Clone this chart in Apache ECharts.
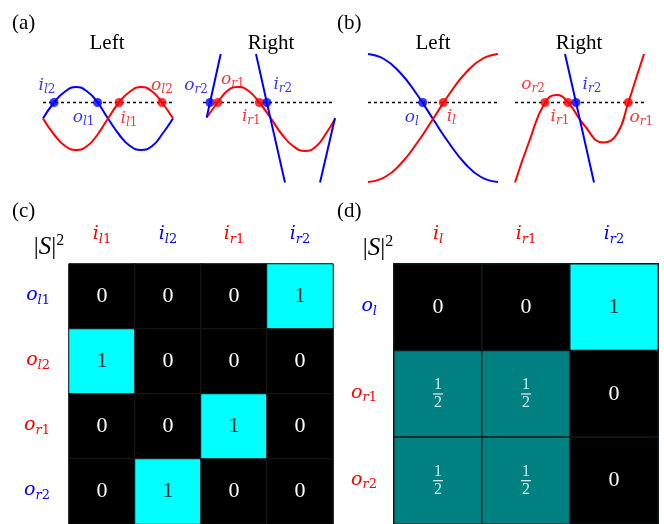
<!DOCTYPE html>
<html>
<head>
<meta charset="utf-8">
<script src="https://cdn.jsdelivr.net/npm/echarts@6/dist/echarts.min.js"></script>
<style>
  html, body { margin: 0; padding: 0; background: #fff; }
  #main { width: 664px; height: 524px; }
</style>
</head>
<body>
<div id="main"></div>
<script>
(function () {
  var RED = '#ff0000';
  var BLUE = '#0000ff';
  var SERIF = 'Liberation Serif';
  var MATH = 'DejaVu Serif';

  // (a) Left: band energies E(k)
  var aLeftK = [-1, -0.83, -0.66, -0.49, -0.32, -0.16, 0, 0.17, 0.34, 0.51, 0.68, 0.83, 1];
  var aLeftBlue = [-0.32, 0, 0.22, 0.31, 0.22, 0, -0.32, -0.64, -0.87, -0.95, -0.87, -0.64, -0.32];
  var aLeftRed = [-0.32, -0.64, -0.87, -0.95, -0.87, -0.64, -0.32, 0, 0.22, 0.31, 0.22, 0, -0.32];
  var aLeftDotK = [-0.83, -0.16, 0.17, 0.83];
  var aLeftDotName = ['i_l2', 'o_l1', 'i_l1', 'o_l2'];
  var aLeftDotColor = ['b', 'b', 'r', 'r'];

  // (a) Right
  var aRightRedK = [-0.944, -0.777, -0.626, -0.474, -0.318, -0.147, 0.03, 0.197, 0.364, 0.545, 0.712, 0.864, 1];
  var aRightRed = [-0.30, 0, 0.24, 0.31, 0.24, 0, -0.32, -0.64, -0.87, -0.97, -0.88, -0.62, -0.33];
  var aRightBlue1K = [-0.944, -0.894, -0.732];
  var aRightBlue1 = [-0.30, 0, 0.97];
  var aRightBlue2K = [-0.197, -0.033, 0.242];
  var aRightBlue2 = [0.97, 0, -1.6];
  var aRightBlue3K = [0.773, 1];
  var aRightBlue3 = [-1.6, -0.31];
  var aRightDotK = [-0.894, -0.777, -0.147, -0.033];
  var aRightDotName = ['o_r2', 'o_r1', 'i_r1', 'i_r2'];
  var aRightDotColor = ['b', 'r', 'r', 'b'];

  // (b) Left
  var bLeftBlueK = [-1, -0.754, -0.508, -0.262, 0, 0.246, 0.492, 0.738, 1];
  var bLeftBlue = [0.97, 0.87, 0.60, 0.19, -0.33, -0.81, -1.22, -1.49, -1.59];
  var bLeftRedK = [-1, -0.738, -0.492, -0.246, 0, 0.262, 0.508, 0.754, 1];
  var bLeftRed = [-1.59, -1.49, -1.22, -0.81, -0.33, 0.19, 0.60, 0.87, 0.97];
  var bLeftDotK = [-0.158, 0.158];
  var bLeftDotName = ['o_l', 'i_l'];
  var bLeftDotColor = ['b', 'r'];

  // (b) Right
  var bRightRedK = [-1, -0.783, -0.535, -0.353, -0.178, 0.07, 0.369, 0.581, 0.757, 0.884, 1];
  var bRightRed = [-1.6, -0.79, 0, 0.15, 0, -0.45, -0.80, -0.63, 0, 0.51, 0.97];
  var bRightBlueK = [-0.225, -0.054, 0.225];
  var bRightBlue = [0.97, 0, -1.6];
  var bRightDotK = [-0.535, -0.178, -0.054, 0.757];
  var bRightDotName = ['o_r2', 'i_r1', 'i_r2', 'o_r1'];
  var bRightDotColor = ['r', 'r', 'b', 'r'];

  // (c) |S|^2 matrix
  var cCols = ['i_l1', 'i_l2', 'i_r1', 'i_r2'];
  var cColColor = ['r', 'b', 'r', 'b'];
  var cRows = ['o_l1', 'o_l2', 'o_r1', 'o_r2'];
  var cRowColor = ['b', 'r', 'r', 'b'];
  var cValues = [
    [0, 0, 0, 1],
    [1, 0, 0, 0],
    [0, 0, 1, 0],
    [0, 1, 0, 0]
  ];

  // (d) |S|^2 matrix
  var dCols = ['i_l', 'i_r1', 'i_r2'];
  var dColColor = ['r', 'r', 'b'];
  var dRows = ['o_l', 'o_r1', 'o_r2'];
  var dRowColor = ['b', 'r', 'r'];
  var dValues = [
    [0, 0, 1],
    [0.5, 0.5, 0],
    [0.5, 0.5, 0]
  ];

  // label offsets (px) of the point names, relative to each dot
  var aLeftOffset = [[-7, -16], [-14, 16], [10, 17], [0, -16]];
  var aRightOffset = [[-14, -16], [15, -22], [-8, 15], [16, -17]];
  var bLeftOffset = [[-11, 16], [8, 15]];
  var bRightOffset = [[-12, -17], [-8, 15], [16, -17], [13, 16]];

  var colorOf = { r: RED, b: BLUE };

  function mathRich(size) {
    var rich = {};
    var sub = Math.round(size * 0.7);
    ['r', 'b'].forEach(function (c) {
      rich['m' + c] = {
        fontFamily: MATH, fontStyle: 'italic', fontSize: size,
        lineHeight: size + 2, verticalAlign: 'top', color: colorOf[c]
      };
      rich['s' + c] = {
        fontFamily: MATH, fontStyle: 'italic', fontSize: sub,
        lineHeight: Math.round(size * 0.75), padding: [Math.round(size * 0.55), 0, 0, 0],
        verticalAlign: 'bottom', color: colorOf[c]
      };
      rich['n' + c] = {
        fontFamily: MATH, fontSize: sub,
        lineHeight: Math.round(size * 0.75), padding: [Math.round(size * 0.55), 0, 0, 0],
        verticalAlign: 'bottom', color: colorOf[c]
      };
    });
    return rich;
  }

  function mathText(name, c) {
    var parts = name.split('_');
    var sub = parts[1];
    var s = '{m' + c + '|' + parts[0] + '}{s' + c + '|' + sub.charAt(0) + '}';
    if (sub.length > 1) s += '{n' + c + '|' + sub.slice(1) + '}';
    return s;
  }

  function zip(ks, es) {
    return ks.map(function (k, i) { return [k, es[i]]; });
  }

  var xAxes = [];
  var yAxes = [];
  var grids = [
    { left: 43, top: 52.5, width: 130, height: 130 },
    { left: 203, top: 52.5, width: 132, height: 130 },
    { left: 368, top: 52.5, width: 130, height: 130 },
    { left: 515, top: 52.5, width: 129, height: 130 },
    { left: 69, top: 264, width: 264, height: 264, show: true, borderColor: '#333', borderWidth: 1 },
    { left: 394, top: 264, width: 264, height: 264, show: true, borderColor: '#333', borderWidth: 1 }
  ];
  for (var g = 0; g < 4; g++) {
    xAxes.push({ type: 'value', gridIndex: g, min: -1, max: 1, show: false });
    yAxes.push({ type: 'value', gridIndex: g, min: -1.6, max: 1, show: false });
  }

  function heatAxes(gi, cols, colColor, rows, rowColor, margin) {
    xAxes.push({
      type: 'category', gridIndex: gi, position: 'top', data: cols,
      axisLine: { show: false }, axisTick: { show: false }, splitLine: { show: false },
      axisLabel: {
        interval: 0, margin: 18, hideOverlap: false,
        formatter: function (v, i) { return mathText(v, colColor[i]); },
        rich: mathRich(19)
      }
    });
    yAxes.push({
      type: 'category', gridIndex: gi, inverse: true, data: rows,
      axisLine: { show: false }, axisTick: { show: false }, splitLine: { show: false },
      axisLabel: {
        interval: 0, margin: margin, hideOverlap: false,
        formatter: function (v, i) { return mathText(v, rowColor[i]); },
        rich: mathRich(19)
      }
    });
  }
  heatAxes(4, cCols, cColColor, cRows, cRowColor, 19);
  heatAxes(5, dCols, dColColor, dRows, dRowColor, 17);

  var series = [];

  function curve(gi, ks, es, color, smooth) {
    series.push({
      type: 'line', xAxisIndex: gi, yAxisIndex: gi, data: zip(ks, es),
      smooth: smooth, symbol: 'none', clip: false, silent: true, z: 3,
      lineStyle: { color: color, width: 2 }
    });
  }

  function dotted(gi) {
    series.push({
      type: 'line', xAxisIndex: gi, yAxisIndex: gi, data: [[-1, 0], [1, 0]],
      symbol: 'none', silent: true, z: 2,
      lineStyle: { color: '#000', width: 1.3, type: [3, 3] }
    });
  }

  function dots(gi, ks, names, colors, offsets) {
    series.push({
      type: 'scatter', xAxisIndex: gi, yAxisIndex: gi, symbolSize: 9, z: 5, silent: true,
      data: ks.map(function (k, i) {
        return {
          value: [k, 0],
          itemStyle: { color: colorOf[colors[i]] },
          label: { offset: offsets[i] }
        };
      }),
      label: {
        show: true, position: 'inside',
        formatter: function (p) { return mathText(names[p.dataIndex], colors[p.dataIndex]); },
        rich: mathRich(17)
      }
    });
  }

  dotted(0); dotted(1); dotted(2); dotted(3);
  curve(0, aLeftK, aLeftBlue, BLUE, 0.5);
  curve(0, aLeftK, aLeftRed, RED, 0.5);
  curve(1, aRightRedK, aRightRed, RED, 0.5);
  curve(1, aRightBlue1K, aRightBlue1, BLUE, false);
  curve(1, aRightBlue2K, aRightBlue2, BLUE, false);
  curve(1, aRightBlue3K, aRightBlue3, BLUE, false);
  curve(2, bLeftBlueK, bLeftBlue, BLUE, 0.5);
  curve(2, bLeftRedK, bLeftRed, RED, 0.5);
  curve(3, bRightRedK, bRightRed, RED, 0.5);
  curve(3, bRightBlueK, bRightBlue, BLUE, false);
  dots(0, aLeftDotK, aLeftDotName, aLeftDotColor, aLeftOffset);
  dots(1, aRightDotK, aRightDotName, aRightDotColor, aRightOffset);
  dots(2, bLeftDotK, bLeftDotName, bLeftDotColor, bLeftOffset);
  dots(3, bRightDotK, bRightDotName, bRightDotColor, bRightOffset);

  function matrixData(values) {
    var out = [];
    values.forEach(function (row, r) {
      row.forEach(function (v, c) { out.push([c, r, v]); });
    });
    return out;
  }

  var cellRich = {
    z: { fontFamily: SERIF, fontSize: 22, color: '#ffffff' },
    o: { fontFamily: SERIF, fontSize: 22, color: '#0c2c2c' },
    fn: { fontFamily: SERIF, fontSize: 16, lineHeight: 14, color: '#cdeeee', align: 'center' },
    fb: { width: 10, height: 1.3, lineHeight: 4, backgroundColor: '#cdeeee', align: 'center' }
  };
  function cellText(p) {
    var v = p.value[2];
    if (v === 0) return '{z|0}';
    if (v === 1) return '{o|1}';
    return '{fn|1}\n{fb|}\n{fn|2}';
  }

  series.push({
    type: 'heatmap', xAxisIndex: 4, yAxisIndex: 4, data: matrixData(cValues),
    itemStyle: { borderColor: '#1a1a1a', borderWidth: 1 },
    label: { show: true, formatter: cellText, rich: cellRich }
  });
  series.push({
    type: 'heatmap', xAxisIndex: 5, yAxisIndex: 5, data: matrixData(dValues),
    itemStyle: { borderColor: '#0d1a1a', borderWidth: 1.5 },
    label: { show: true, formatter: cellText, rich: cellRich }
  });

  function txt(x, y, s, size, align) {
    return {
      type: 'text', x: x, y: y, silent: true,
      style: {
        text: s, fontFamily: SERIF, fontSize: size, fill: '#000',
        align: align || 'center', verticalAlign: 'middle'
      }
    };
  }
  var absRich = {
    bar: { fontFamily: SERIF, fontSize: 25, lineHeight: 27, verticalAlign: 'bottom', color: '#000' },
    S: { fontFamily: SERIF, fontStyle: 'italic', fontSize: 25, lineHeight: 27, verticalAlign: 'bottom', color: '#000' },
    sup: { fontFamily: SERIF, fontSize: 16, lineHeight: 16, verticalAlign: 'top', color: '#000' }
  };
  function absS(x, y) {
    return {
      type: 'text', x: x, y: y, silent: true,
      style: {
        text: '{bar||}{S|S}{bar||}{sup|2}', rich: absRich,
        align: 'center', verticalAlign: 'middle'
      }
    };
  }

  var chart = echarts.init(document.getElementById('main'));
  chart.setOption({
    animation: false,
    backgroundColor: '#fff',
    grid: grids,
    xAxis: xAxes,
    yAxis: yAxes,
    visualMap: {
      show: false, type: 'continuous', min: 0, max: 1,
      seriesIndex: [series.length - 2, series.length - 1],
      inRange: { color: ['#000000', '#00ffff'] }
    },
    series: series,
    graphic: [
      txt(12, 23, '(a)', 21, 'left'),
      txt(337, 23, '(b)', 21, 'left'),
      txt(12, 211, '(c)', 21, 'left'),
      txt(337, 211, '(d)', 21, 'left'),
      txt(107, 43, 'Left', 21),
      txt(271, 43, 'Right', 21),
      txt(433, 43, 'Left', 21),
      txt(579, 43, 'Right', 21),
      absS(49, 246),
      absS(378, 247)
    ]
  });
})();
</script>
</body>
</html>
